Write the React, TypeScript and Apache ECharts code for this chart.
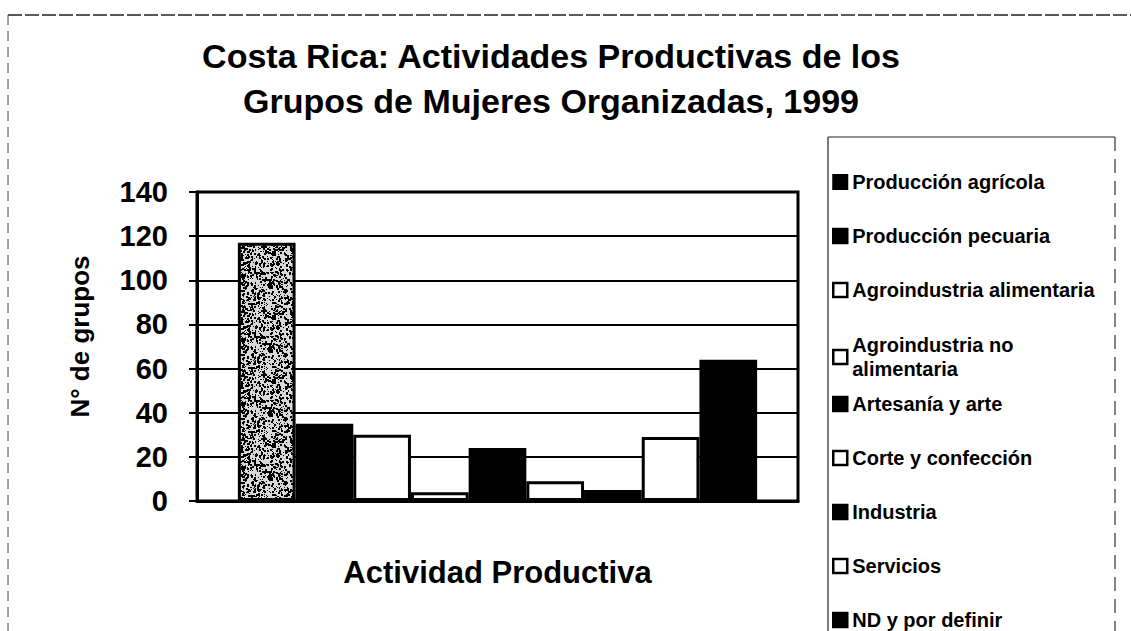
import React, { useEffect, useRef } from "react";
import * as echarts from "echarts";

const titleLines = ["Costa Rica: Actividades Productivas de los", "Grupos de Mujeres Organizadas, 1999"];
const yAxisTitle = "N° de grupos";
const xAxisTitle = "Actividad Productiva";
const categories = [""];
const seriesNames = [
  "Producción agrícola",
  "Producción pecuaria",
  "Agroindustria alimentaria",
  "Agroindustria no alimentaria",
  "Artesanía y arte",
  "Corte y confección",
  "Industria",
  "Servicios",
  "ND y por definir",
];
const seriesValues = [117, 35, 30, 4, 24, 9, 5, 29, 64];
const seriesFills = ["speckle", "#000", "#fff", "#fff", "#000", "#fff", "#000", "#fff", "#000"];
const yTicks = { min: 0, max: 140, interval: 20 };

function makeSpeckle(): HTMLCanvasElement {
  const c = document.createElement("canvas");
  c.width = 64;
  c.height = 64;
  const ctx = c.getContext("2d")!;
  ctx.fillStyle = "#d8d8d8";
  ctx.fillRect(0, 0, 64, 64);
  let s = 12345;
  const next = () => {
    s = (s * 1103515245 + 12345) & 0x7fffffff;
    return s / 0x7fffffff;
  };
  ctx.fillStyle = "#000";
  for (let i = 0; i < 900; i++) {
    const x = Math.floor(next() * 64);
    const y = Math.floor(next() * 64);
    const w = 1 + Math.floor(next() * 2);
    ctx.fillRect(x, y, w, w);
  }
  return c;
}

export default function App() {
  const ref = useRef<HTMLDivElement>(null);
  useEffect(() => {
    document.body.style.margin = "0";
    const chart = echarts.init(ref.current!, null, { renderer: "svg" });
    const speckle = makeSpeckle();
    const font = "'Liberation Sans', Arial, sans-serif";
    const series = seriesNames.map((name, i) => ({
      name,
      type: "bar",
      data: [seriesValues[i]],
      barGap: "0%",
      barCategoryGap: "13.6%",
      itemStyle: {
        color: seriesFills[i] === "speckle" ? { image: speckle, repeat: "repeat" } : seriesFills[i],
        borderColor: "#000",
        borderWidth: 3,
      },
    }));
    const legendItem = (name: string, i: number) =>
      seriesFills[i] === "speckle" ? { name, itemStyle: { color: "#000" } } : { name, itemStyle: { borderWidth: 2.5 } };
    const textStyle = { fontFamily: font, fontWeight: "bold", fontSize: 20, lineHeight: 24, color: "#000" };
    const legendCommon = {
      orient: "vertical",
      left: 832,
      padding: 0,
      height: 260,
      icon: "rect",
      itemWidth: 14,
      itemHeight: 14,
      itemGap: 30,
      textStyle,
      formatter: (n: string) => (n === "Agroindustria no alimentaria" ? "Agroindustria no\nalimentaria" : n),
      selectedMode: false,
    };
    chart.setOption({
      animation: false,
      backgroundColor: "#fff",
      title: {
        text: titleLines.join("\n"),
        left: 546,
        top: 28,
        textAlign: "center",
        textStyle: { fontFamily: font, fontWeight: "bold", fontSize: 34, lineHeight: 45, color: "#000" },
      },
      legend: [
        { ...legendCommon, top: 170, data: seriesNames.slice(0, 3).map((n, i) => legendItem(n, i)) },
        { ...legendCommon, top: 333, data: seriesNames.slice(3, 4).map((n, i) => legendItem(n, i + 3)) },
        { ...legendCommon, top: 392, data: seriesNames.slice(4).map((n, i) => legendItem(n, i + 4)) },
      ],
      grid: {
        left: 197,
        right: 333,
        top: 192,
        bottom: 130,
        show: true,
        borderColor: "#000",
        borderWidth: 3,
        backgroundColor: "transparent",
      },
      xAxis: {
        type: "category",
        data: categories,
        axisTick: { show: false },
        axisLabel: { show: false },
        axisLine: { lineStyle: { color: "#000", width: 3 } },
        name: xAxisTitle,
        nameLocation: "middle",
        nameGap: 56,
        nameTextStyle: { fontFamily: font, fontWeight: "bold", fontSize: 31, color: "#000" },
      },
      yAxis: {
        type: "value",
        min: yTicks.min,
        max: yTicks.max,
        interval: yTicks.interval,
        axisLine: { show: true, lineStyle: { color: "#000", width: 3 } },
        axisTick: { show: true, length: 8, lineStyle: { color: "#000", width: 2 } },
        axisLabel: { fontFamily: font, fontWeight: "bold", fontSize: 29, color: "#000", margin: 29 },
        splitLine: { lineStyle: { color: "#000", width: 2 } },
        name: yAxisTitle,
        nameLocation: "middle",
        nameRotate: 90,
        nameGap: 104,
        nameTextStyle: { fontFamily: font, fontWeight: "bold", fontSize: 26, color: "#000", padding: [0, 0, 0, 20] },
      },
      graphic: [
        { type: "line", shape: { x1: 8, y1: 15, x2: 1131, y2: 15 }, style: { stroke: "#222", lineWidth: 1.5, lineDash: [14, 3] } },
        { type: "line", shape: { x1: 8, y1: 15, x2: 8, y2: 631 }, style: { stroke: "#444", lineWidth: 1, lineDash: [10, 6] } },
        { type: "line", shape: { x1: 828, y1: 137, x2: 1115, y2: 137 }, style: { stroke: "#222", lineWidth: 1.2 } },
        { type: "line", shape: { x1: 828, y1: 137, x2: 828, y2: 631 }, style: { stroke: "#222", lineWidth: 1.2 } },
        { type: "line", shape: { x1: 1115, y1: 137, x2: 1115, y2: 631 }, style: { stroke: "#333", lineWidth: 1.2, lineDash: [14, 8] } },
      ],
      series,
    });
    return () => chart.dispose();
  }, []);
  return <div ref={ref} style={{ width: 1131, height: 631, position: "absolute", left: 0, top: 0 }} />;
}
